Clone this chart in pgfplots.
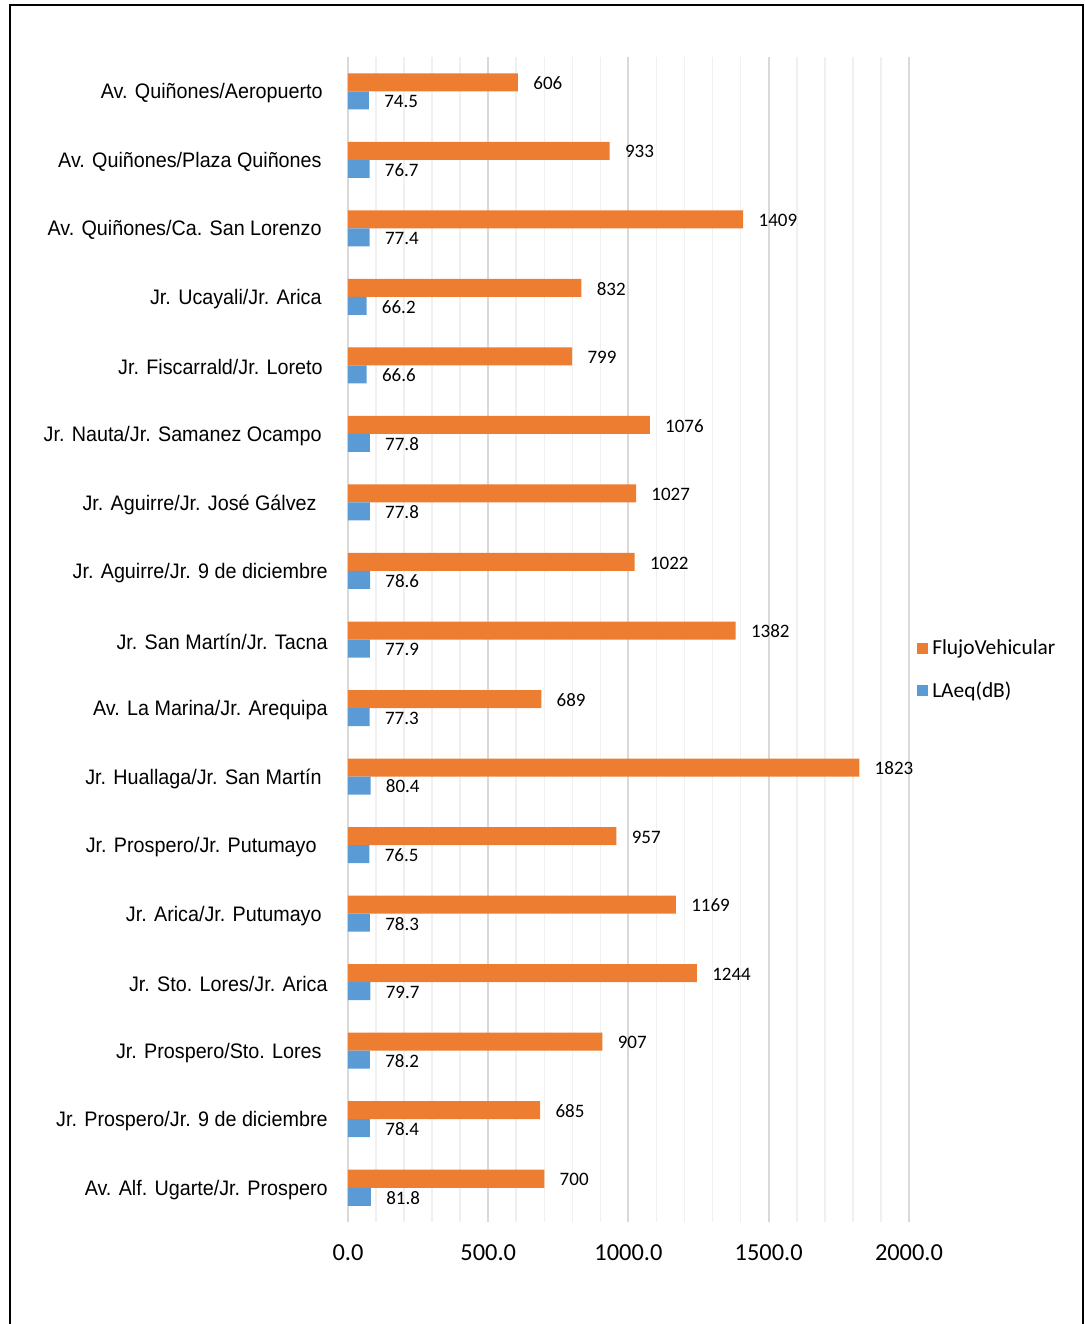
\documentclass[border=0pt]{standalone}
\usepackage{fontspec}
\setmainfont{Carlito}
\newfontfamily\narrowfont{Liberation Sans}[FakeStretch=0.94]
\usepackage{pgfplots}
\pgfplotsset{compat=1.18}
\definecolor{orng}{HTML}{ED7D31}
\definecolor{blu}{HTML}{5B9BD5}
\definecolor{majgrid}{HTML}{D9D9D9}
\definecolor{mingrid}{HTML}{F0F0F0}
\begin{document}
\begin{tikzpicture}
\begin{axis}[
  at={(0pt,0pt)}, anchor=south west,
  scale only axis, width=280.5pt, height=582.5pt,
  xbar, bar width=9pt,
  y dir=reverse,
  xmin=0, xmax=2000, ymin=-0.5, ymax=16.5,
  xtick={0,500,1000,1500,2000},
  minor x tick num=4,
  xmajorgrids, xminorgrids,
  major grid style={majgrid, line width=1pt},
  minor grid style={mingrid, line width=0.8pt},
  axis line style={draw=none},
  major tick length=0pt, minor tick length=0pt,
  /pgf/number format/assume math mode=true,
  ytick={0,...,16},
  yticklabels={
    Av. Quiñones/Aeropuerto\kern2.5pt,
    Av. Quiñones/Plaza Quiñones\kern3pt,
    Av. Quiñones/Ca. San Lorenzo\kern3pt,
    Jr. Ucayali/Jr. Arica\kern3pt,
    Jr. Fiscarrald/Jr. Loreto\kern2.5pt,
    Jr. Nauta/Jr. Samanez Ocampo\kern3pt,
    Jr. Aguirre/Jr. José Gálvez\kern5.5pt,
    Jr. Aguirre/Jr. 9 de diciembre,
    Jr. San Martín/Jr. Tacna,
    Av. La Marina/Jr. Arequipa,
    Jr. Huallaga/Jr. San Martín\kern3pt,
    Jr. Prospero/Jr. Putumayo\kern5.5pt,
    Jr. Arica/Jr. Putumayo\kern3pt,
    Jr. Sto. Lores/Jr. Arica,
    Jr. Prospero/Sto. Lores\kern3pt,
    Jr. Prospero/Jr. 9 de diciembre,
    Av. Alf. Ugarte/Jr. Prospero},
  yticklabel style={font=\narrowfont\fontsize{10.5pt}{12pt}\selectfont, anchor=east, xshift=-10pt, yshift=-1pt, inner sep=0pt},
  xticklabel style={font=\fontsize{12.2pt}{15pt}\selectfont, anchor=center, yshift=-15.5pt, inner sep=0pt},
  xticklabel={\pgfmathprintnumber[fixed,fixed zerofill,precision=1,1000 sep={}]{\tick}},
  nodes near coords,
  nodes near coords style={font=\fontsize{9.5pt}{11pt}\selectfont, anchor=west, xshift=7.5pt, yshift=-0.5pt, inner sep=0pt, black},
  legend style={draw=none, fill=none, at={(1.014,0.4738)}, anchor=west,
    font=\fontsize{10.7pt}{12pt}\selectfont, row sep=8pt, inner sep=0pt,
    /tikz/every even column/.append style={column sep=2pt}},
  legend cell align=left,
  legend image code/.code={\fill[#1] (0pt,-2.75pt) rectangle (5.5pt,2.75pt);},
]
\addplot[fill=orng, draw=none, bar shift=4.5pt,
  nodes near coords={\pgfmathprintnumber[fixed,precision=0,1000 sep={}]{\pgfplotspointmeta}}]
  coordinates {(606,0) (933,1) (1409,2) (832,3) (799,4) (1076,5) (1027,6) (1022,7) (1382,8) (689,9) (1823,10) (957,11) (1169,12) (1244,13) (907,14) (685,15) (700,16)};
\addlegendentry{FlujoVehicular}
\addplot[fill=blu, draw=none, bar shift=-4.5pt,
  nodes near coords={\pgfmathprintnumber[fixed,fixed zerofill,precision=1]{\pgfplotspointmeta}}]
  coordinates {(74.5,0) (76.7,1) (77.4,2) (66.2,3) (66.6,4) (77.8,5) (77.8,6) (78.6,7) (77.9,8) (77.3,9) (80.4,10) (76.5,11) (78.3,12) (79.7,13) (78.2,14) (78.4,15) (81.8,16)};
\addlegendentry{LAeq(dB)}
\end{axis}
\path[use as bounding box] (-174pt,-51pt) rectangle (368.5pt,611pt);
\draw[black, line width=1pt] (-169pt,-52pt) -- (-169pt,608.5pt) -- (367.5pt,608.5pt) -- (367.5pt,-52pt);
\end{tikzpicture}
\end{document}
